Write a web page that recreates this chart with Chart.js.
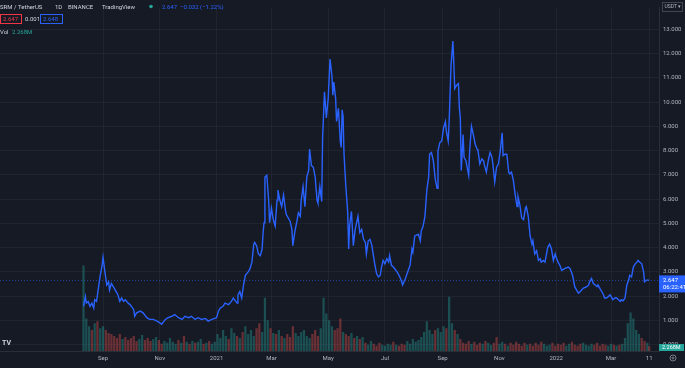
<!DOCTYPE html>
<html><head><meta charset="utf-8">
<script src="https://cdn.jsdelivr.net/npm/chart.js@4/dist/chart.umd.min.js"></script>
<style>html,body{margin:0;padding:0;background:#161a25;overflow:hidden}canvas{display:block}</style>
</head><body>
<canvas id="c" width="685" height="368"></canvas>
<script>
// Days since listing (2020-08-11), daily close (USDT)
const priceDays = [0,2,3,5,7,9,11,12,14,16,18,20,21,23,25,27,28,30,32,36,37,39,41,43,45,48,50,54,55,57,61,64,68,71,75,79,82,84,88,91,95,98,102,106,109,113,116,120,123,127,131,134,138,143,145,147,150,152,156,159,161,165,166,168,170,172,174,177,179,181,183,184,186,188,190,192,193,194,195,197,199,200,202,204,206,208,209,211,213,215,217,218,222,224,225,227,229,231,233,234,236,238,240,242,243,245,247,249,251,252,254,256,257,259,261,263,265,267,268,269,271,272,274,276,277,278,279,280,282,284,285,286,288,290,292,295,297,299,301,303,304,306,308,310,311,313,315,317,319,320,322,324,326,328,329,331,333,337,340,342,343,346,349,351,353,354,356,360,362,363,365,367,369,371,372,374,376,378,380,381,383,385,387,389,390,392,393,395,397,398,399,401,403,404,405,406,408,409,411,414,415,417,419,421,423,424,426,428,430,431,433,435,437,439,440,442,444,446,448,450,451,453,455,457,458,460,462,464,466,467,469,471,473,475,476,478,480,482,483,485,487,489,491,492,494,496,498,499,501,503,505,507,508,510,512,514,517,521,523,525,526,528,530,532,534,537,541,543,544,546,548,550,552,553,555,557,559,560,562,564,566,568,569,571,573,575,577,578,580,582,584,586,587,589,591,593,595,596,598,600,602,603,605,607,608];
const prices = [1.58,1.98,1.71,1.78,1.58,1.71,1.51,1.85,1.78,2.32,2.86,3.27,3.60,3.00,2.46,2.59,2.25,2.52,2.39,2.12,2.05,1.78,1.92,1.78,1.85,1.71,1.65,1.44,1.17,1.31,1.38,1.31,1.11,1.04,1.04,0.97,0.90,0.84,1.04,1.11,1.17,1.24,1.11,1.04,1.17,1.11,1.17,1.04,1.11,1.04,1.08,0.97,1.04,1.11,1.38,1.51,1.58,1.71,1.65,1.78,1.92,1.71,2.05,2.19,1.92,2.46,2.86,3.00,3.13,3.40,4.14,4.21,4.08,3.74,3.67,3.94,4.60,5.02,6.91,6.98,5.96,5.02,5.63,5.15,4.89,5.96,6.37,5.96,5.69,6.17,5.56,5.36,5.09,4.75,4.08,4.62,5.02,5.43,5.29,5.96,6.51,5.69,6.91,7.18,8.06,7.38,7.31,6.91,5.96,5.83,6.51,5.90,8.53,10.42,9.34,10.15,11.77,11.09,10.28,10.82,10.15,9.20,9.74,8.39,8.13,9.68,9.40,7.85,6.51,5.43,3.94,4.89,5.49,4.08,4.75,5.29,4.62,4.75,4.34,4.21,3.74,4.28,4.34,4.08,3.81,3.33,2.93,2.79,2.86,3.13,3.47,3.33,3.54,3.40,3.67,3.27,3.20,3.00,2.79,2.59,2.46,2.73,3.06,3.27,3.94,3.81,4.48,4.55,4.28,4.68,4.89,5.29,6.37,6.91,7.85,7.92,7.58,6.84,6.44,7.99,8.33,8.39,8.93,9.20,8.80,8.39,9.20,11.50,12.51,11.63,10.55,10.69,10.76,9.74,9.34,7.18,8.66,7.72,7.58,6.98,7.99,9.00,8.66,8.26,8.06,7.99,7.45,7.65,7.58,7.38,7.11,7.58,7.92,7.72,7.45,6.71,7.31,7.45,7.99,8.73,7.79,7.85,7.85,7.11,7.04,7.11,6.77,6.17,5.69,6.10,5.76,5.22,5.15,5.63,5.69,5.29,4.48,4.14,4.28,3.74,3.87,3.47,3.54,3.40,3.47,3.40,3.81,4.01,4.14,3.94,3.47,3.74,3.60,3.40,3.27,3.06,3.13,3.20,3.13,2.93,2.79,2.39,2.25,2.12,2.19,2.32,2.39,2.46,2.59,2.73,2.52,2.46,2.39,2.46,2.32,2.19,2.05,1.92,1.92,1.98,2.05,1.92,1.85,1.92,1.92,1.85,1.78,1.85,1.81,1.92,2.46,2.66,2.86,2.79,3.20,3.33,3.40,3.47,3.40,3.33,3.00,2.59,2.66,2.66,2.647];

// Volume (millions), one bar every 3 days from day 0, plus the live bar
const volumeStepDays = 3;
const volumes = [
 43.5,16.5,12.5,10.5,14,15,11.5,12.5,10.5,9,8.5,
 7.5,6.5,8.5,6,7,5.5,6.5,7.5,5,6,8,5.5,6.5,5,6,7,5.5,
 3.5,5,4,6.5,4.5,3.5,5.5,4,7.5,4.5,3.5,5,4,4.5,6,3.5,4,5,3.5,4.5,
 8.5,6.5,10.5,7.5,6,11.5,9,7.5,6.5,9.5,12.5,8.5,10.5,7.5,11.5,14,9.5,27,15.5,
 11.5,9,8.5,10.5,7.5,6.5,8.5,7,12.5,9,7.5,9.5,10.5,7.5,6.5,8.5,10.5,7.5,11.5,
 27,19,15.5,12.5,10.5,11.5,16.5,9.5,8.5,7.5,9,6.5,7.5,6,7,
 4,3,5,3.5,2.5,4,3,2.5,3.5,3,4.5,3,2.5,3.5,3,5,3.5,6,4.5,5.5,7,
 9.5,15,10.5,8.5,10.5,11.5,9.5,12.5,11.5,27.5,14,10.5,8.5,
 6,4,3.5,5,3.5,4.5,3,4,3.5,5,4,3,4,7,3.5,4.5,
 3.5,2.5,4,3,4.5,3.5,2.5,4,3,3.5,2.5,4,3,4.5,3.5,2.5,3,4,2.5,3.5,
 3,4,2.5,3.5,4.5,3,2.5,3.5,4,3,2.5,3.5,3,4,2.5,3.5,3,2.5,3.5,3,2.5,3,3.5,
 6.5,14,19.5,16.5,10.5,8.5,6.5,5,4];
const lastVolumeDay = 608;
const lastVolume = 2.268;

const tickDays = [21,82,143,202,263,324,386,447,508,567,608];
const tickLabels = ['Sep','Nov','2021','Mar','May','Jul','Sep','Nov','2022','Mar','11'];
const priceTicks = [0,1,2,3,4,5,6,7,8,9,10,11,12,13];

const lastPrice = prices[prices.length-1];

const BG = '#161a25';
const GRID = 'rgba(42,46,57,0.55)';
const FONT = 'Roboto, "Liberation Sans", sans-serif';
const UP = 'rgba(38,166,154,0.38)', DOWN = 'rgba(239,83,80,0.38)';

const volDays = volumes.map((_, i) => i * volumeStepDays).concat([lastVolumeDay]);
const volAll = volumes.concat([lastVolume]);
function priceAt(d){ let p = prices[0]; for (let i=0;i<priceDays.length;i++){ if (priceDays[i] <= d) p = prices[i]; else break; } return p; }
const volColors = volDays.map(d => priceAt(d) >= priceAt(d - volumeStepDays) ? UP : DOWN);

const overlay = {
  id: 'overlay',
  beforeDraw(chart){
    const c = chart.ctx; c.save(); c.fillStyle = BG; c.fillRect(0,0,chart.width,chart.height); c.restore();
  },
  beforeDatasetsDraw(chart){
    const c = chart.ctx, a = chart.chartArea, y = Math.round(chart.scales.y.getPixelForValue(lastPrice)) + 0.5;
    c.save(); c.strokeStyle = 'rgba(41,98,255,0.55)'; c.lineWidth = 1; c.setLineDash([1,2]);
    c.beginPath(); c.moveTo(a.left, y); c.lineTo(a.right, y); c.stroke(); c.restore();
  },
  afterDraw(chart){
    const c = chart.ctx, a = chart.chartArea;
    c.save();
    c.textBaseline = 'middle';
    c.font = '6px ' + FONT;
    c.fillStyle = '#d1d4dc';
    c.fillText('SRM / TetherUS', 0, 7);
    c.fillText('1D', 55, 7);
    c.fillText('BINANCE', 68, 7);
    c.fillText('TradingView', 102, 7);
    c.fillStyle = '#26a69a'; c.beginPath(); c.arc(151, 6.5, 1.8, 0, Math.PI*2); c.fill();
    c.fillStyle = '#2962ff'; c.fillText('2.647  \u22120.032 (\u22121.22%)', 162, 7);
    // row 2
    c.strokeStyle = '#f23645'; c.lineWidth = 1; c.strokeRect(0.5, 14.5, 21, 9);
    c.fillStyle = '#f23645'; c.fillText('2.647', 3, 19.5);
    c.fillStyle = '#d1d4dc'; c.fillText('0.001', 25, 19.5);
    c.strokeStyle = '#2962ff'; c.strokeRect(40.5, 14.5, 22, 9);
    c.fillStyle = '#2962ff'; c.fillText('2.648', 43, 19.5);
    // row 3
    c.fillStyle = '#d1d4dc'; c.fillText('Vol', 0, 32);
    c.fillStyle = '#26a69a'; c.fillText('2.268M', 12, 32);
    // USDT box
    c.strokeStyle = '#434651'; c.strokeRect(662.5, 2.5, 20, 9);
    c.fillStyle = '#b2b5be'; c.font = '5px ' + FONT; c.fillText('USDT \u25BE', 664.5, 7.2);
    // price label
    const py = chart.scales.y.getPixelForValue(lastPrice);
    c.fillStyle = '#2962ff'; c.fillRect(a.right, py - 5, 26, 17);
    c.fillStyle = '#ffffff'; c.font = '6px ' + FONT;
    c.fillText('2.647', a.right + 4, py);
    c.fillText('06:22:41', a.right + 4, py + 7);
    // volume label
    c.fillStyle = '#26a69a'; c.fillRect(a.right, 344, 25, 7);
    c.fillStyle = '#ffffff'; c.font = '5.5px ' + FONT; c.fillText('2.268M', a.right + 3, 347.8);
    // logo
    c.fillStyle = '#d1d4dc'; c.font = 'bold 7px ' + FONT; c.fillText('TV', 2, 343);
    // gear
    c.strokeStyle = '#787b86'; c.lineWidth = 1;
    c.beginPath(); c.arc(673, 358, 3, 0, Math.PI*2); c.stroke();
    c.beginPath(); c.arc(673, 358, 1, 0, Math.PI*2); c.stroke();
    c.restore();
  }
};

new Chart(document.getElementById('c'), {
  type: 'line',
  data: { datasets: [
    { type: 'line', label: 'SRM/USDT', data: priceDays.map((d,i) => ({x: d, y: prices[i]})),
      borderColor: '#2962ff', borderWidth: 1.4, pointRadius: 0, tension: 0, yAxisID: 'y', order: 1 },
    { type: 'bar', label: 'Volume', data: volDays.map((d,i) => ({x: d, y: volAll[i]})),
      backgroundColor: volColors, borderWidth: 0, barThickness: 1.6, yAxisID: 'yv', order: 2 }
  ]},
  options: {
    responsive: false, animation: false, devicePixelRatio: 1,
    layout: { padding: 0 },
    plugins: { legend: { display: false }, tooltip: { enabled: false } },
    scales: {
      x: { type: 'linear', min: -89.75, max: 618.55, offset: false,
        grid: { color: GRID, drawTicks: false, offset: false },
        border: { color: '#2a2e39' },
        ticks: { color: '#b2b5be', font: { size: 6, family: FONT }, padding: 4, autoSkip: false, maxRotation: 0,
          callback: v => { const i = tickDays.indexOf(v); return i >= 0 ? tickLabels[i] : ''; } },
        afterBuildTicks: s => { s.ticks = tickDays.map(v => ({ value: v })); },
        afterFit: s => { s.height = 17; } },
      y: { type: 'linear', position: 'right', min: -0.262, max: 13.891,
        grid: { color: GRID, drawTicks: false },
        border: { color: '#2a2e39' },
        ticks: { color: '#b2b5be', font: { size: 6, family: FONT }, padding: 4,
          callback: v => Number(v).toFixed(3) },
        afterBuildTicks: s => { s.ticks = priceTicks.map(v => ({ value: v })); },
        afterFit: s => { s.width = 26; } },
      yv: { type: 'linear', display: false, min: 0, max: 175.5 }
    }
  },
  plugins: [overlay]
});
</script>
</body></html>
